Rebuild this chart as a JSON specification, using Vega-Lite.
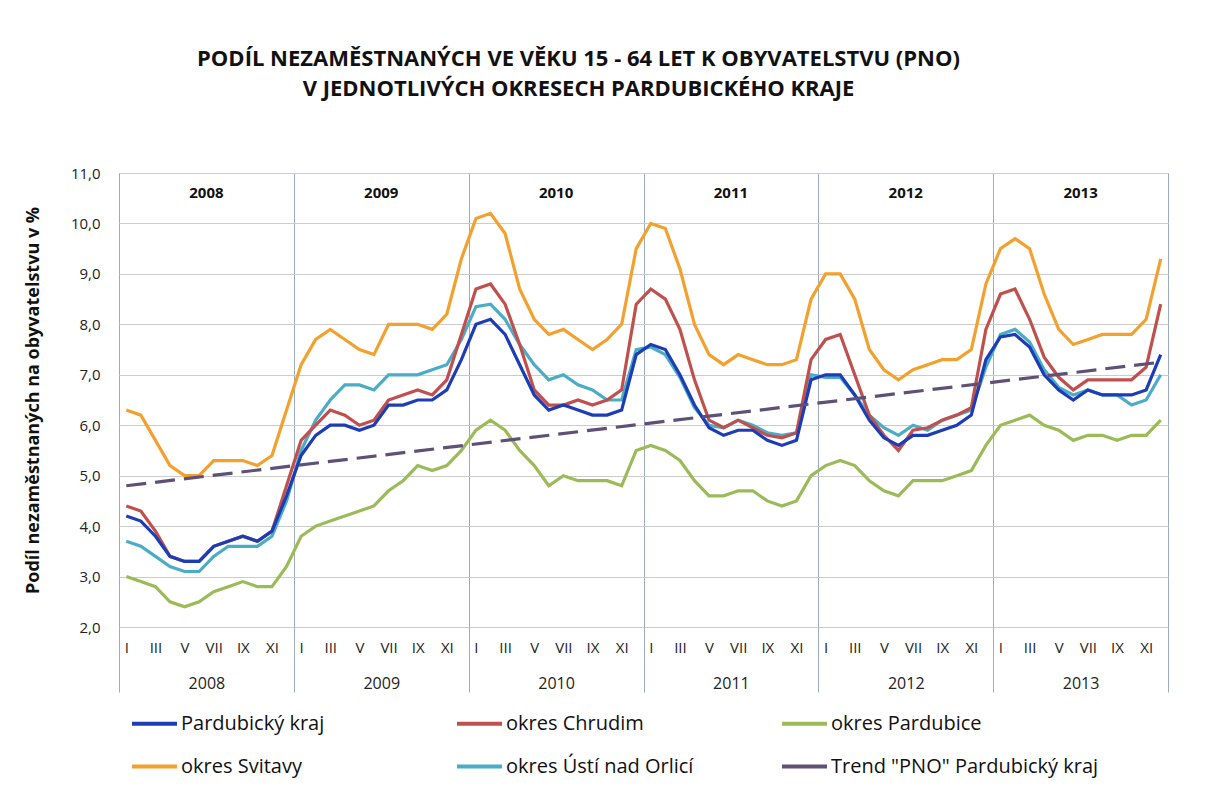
{
  "$schema": "https://vega.github.io/schema/vega-lite/v6.json",
  "width": 1049,
  "height": 454,
  "autosize": {"type": "none"},
  "padding": {"left": 119, "top": 173, "right": 50, "bottom": 158},
  "background": "white",
  "config": {"font": "Open Sans", "view": {"stroke": "#A6A6A6", "strokeWidth": 1}},
  "title": {
    "text": ["PODÍL NEZAMĚSTNANÝCH VE VĚKU 15 - 64 LET K OBYVATELSTVU (PNO)", "V JEDNOTLIVÝCH OKRESECH PARDUBICKÉHO KRAJE"],
    "fontSize": 22, "fontWeight": "bold", "color": "#111111", "anchor": "middle", "frame": "group",
    "dx": -65, "offset": 65, "lineHeight": 30
  },
  "layer": [
    {
      "layer": [
        {
          "data": {"values": [
            {"ym":"2008-01","Pardubický kraj":4.2,"okres Chrudim":4.4,"okres Pardubice":3.0,"okres Svitavy":6.3,"okres Ústí nad Orlicí":3.7},
            {"ym":"2008-02","Pardubický kraj":4.1,"okres Chrudim":4.3,"okres Pardubice":2.9,"okres Svitavy":6.2,"okres Ústí nad Orlicí":3.6},
            {"ym":"2008-03","Pardubický kraj":3.8,"okres Chrudim":3.9,"okres Pardubice":2.8,"okres Svitavy":5.7,"okres Ústí nad Orlicí":3.4},
            {"ym":"2008-04","Pardubický kraj":3.4,"okres Chrudim":3.4,"okres Pardubice":2.5,"okres Svitavy":5.2,"okres Ústí nad Orlicí":3.2},
            {"ym":"2008-05","Pardubický kraj":3.3,"okres Chrudim":3.3,"okres Pardubice":2.4,"okres Svitavy":5.0,"okres Ústí nad Orlicí":3.1},
            {"ym":"2008-06","Pardubický kraj":3.3,"okres Chrudim":3.3,"okres Pardubice":2.5,"okres Svitavy":5.0,"okres Ústí nad Orlicí":3.1},
            {"ym":"2008-07","Pardubický kraj":3.6,"okres Chrudim":3.6,"okres Pardubice":2.7,"okres Svitavy":5.3,"okres Ústí nad Orlicí":3.4},
            {"ym":"2008-08","Pardubický kraj":3.7,"okres Chrudim":3.7,"okres Pardubice":2.8,"okres Svitavy":5.3,"okres Ústí nad Orlicí":3.6},
            {"ym":"2008-09","Pardubický kraj":3.8,"okres Chrudim":3.8,"okres Pardubice":2.9,"okres Svitavy":5.3,"okres Ústí nad Orlicí":3.6},
            {"ym":"2008-10","Pardubický kraj":3.7,"okres Chrudim":3.7,"okres Pardubice":2.8,"okres Svitavy":5.2,"okres Ústí nad Orlicí":3.6},
            {"ym":"2008-11","Pardubický kraj":3.9,"okres Chrudim":3.9,"okres Pardubice":2.8,"okres Svitavy":5.4,"okres Ústí nad Orlicí":3.8},
            {"ym":"2008-12","Pardubický kraj":4.6,"okres Chrudim":4.8,"okres Pardubice":3.2,"okres Svitavy":6.3,"okres Ústí nad Orlicí":4.5},
            {"ym":"2009-01","Pardubický kraj":5.4,"okres Chrudim":5.7,"okres Pardubice":3.8,"okres Svitavy":7.2,"okres Ústí nad Orlicí":5.5},
            {"ym":"2009-02","Pardubický kraj":5.8,"okres Chrudim":6.0,"okres Pardubice":4.0,"okres Svitavy":7.7,"okres Ústí nad Orlicí":6.1},
            {"ym":"2009-03","Pardubický kraj":6.0,"okres Chrudim":6.3,"okres Pardubice":4.1,"okres Svitavy":7.9,"okres Ústí nad Orlicí":6.5},
            {"ym":"2009-04","Pardubický kraj":6.0,"okres Chrudim":6.2,"okres Pardubice":4.2,"okres Svitavy":7.7,"okres Ústí nad Orlicí":6.8},
            {"ym":"2009-05","Pardubický kraj":5.9,"okres Chrudim":6.0,"okres Pardubice":4.3,"okres Svitavy":7.5,"okres Ústí nad Orlicí":6.8},
            {"ym":"2009-06","Pardubický kraj":6.0,"okres Chrudim":6.1,"okres Pardubice":4.4,"okres Svitavy":7.4,"okres Ústí nad Orlicí":6.7},
            {"ym":"2009-07","Pardubický kraj":6.4,"okres Chrudim":6.5,"okres Pardubice":4.7,"okres Svitavy":8.0,"okres Ústí nad Orlicí":7.0},
            {"ym":"2009-08","Pardubický kraj":6.4,"okres Chrudim":6.6,"okres Pardubice":4.9,"okres Svitavy":8.0,"okres Ústí nad Orlicí":7.0},
            {"ym":"2009-09","Pardubický kraj":6.5,"okres Chrudim":6.7,"okres Pardubice":5.2,"okres Svitavy":8.0,"okres Ústí nad Orlicí":7.0},
            {"ym":"2009-10","Pardubický kraj":6.5,"okres Chrudim":6.6,"okres Pardubice":5.1,"okres Svitavy":7.9,"okres Ústí nad Orlicí":7.1},
            {"ym":"2009-11","Pardubický kraj":6.7,"okres Chrudim":6.9,"okres Pardubice":5.2,"okres Svitavy":8.2,"okres Ústí nad Orlicí":7.2},
            {"ym":"2009-12","Pardubický kraj":7.3,"okres Chrudim":7.8,"okres Pardubice":5.5,"okres Svitavy":9.3,"okres Ústí nad Orlicí":7.7},
            {"ym":"2010-01","Pardubický kraj":8.0,"okres Chrudim":8.7,"okres Pardubice":5.9,"okres Svitavy":10.1,"okres Ústí nad Orlicí":8.35},
            {"ym":"2010-02","Pardubický kraj":8.1,"okres Chrudim":8.8,"okres Pardubice":6.1,"okres Svitavy":10.2,"okres Ústí nad Orlicí":8.4},
            {"ym":"2010-03","Pardubický kraj":7.8,"okres Chrudim":8.4,"okres Pardubice":5.9,"okres Svitavy":9.8,"okres Ústí nad Orlicí":8.1},
            {"ym":"2010-04","Pardubický kraj":7.2,"okres Chrudim":7.6,"okres Pardubice":5.5,"okres Svitavy":8.7,"okres Ústí nad Orlicí":7.6},
            {"ym":"2010-05","Pardubický kraj":6.6,"okres Chrudim":6.7,"okres Pardubice":5.2,"okres Svitavy":8.1,"okres Ústí nad Orlicí":7.2},
            {"ym":"2010-06","Pardubický kraj":6.3,"okres Chrudim":6.4,"okres Pardubice":4.8,"okres Svitavy":7.8,"okres Ústí nad Orlicí":6.9},
            {"ym":"2010-07","Pardubický kraj":6.4,"okres Chrudim":6.4,"okres Pardubice":5.0,"okres Svitavy":7.9,"okres Ústí nad Orlicí":7.0},
            {"ym":"2010-08","Pardubický kraj":6.3,"okres Chrudim":6.5,"okres Pardubice":4.9,"okres Svitavy":7.7,"okres Ústí nad Orlicí":6.8},
            {"ym":"2010-09","Pardubický kraj":6.2,"okres Chrudim":6.4,"okres Pardubice":4.9,"okres Svitavy":7.5,"okres Ústí nad Orlicí":6.7},
            {"ym":"2010-10","Pardubický kraj":6.2,"okres Chrudim":6.5,"okres Pardubice":4.9,"okres Svitavy":7.7,"okres Ústí nad Orlicí":6.5},
            {"ym":"2010-11","Pardubický kraj":6.3,"okres Chrudim":6.7,"okres Pardubice":4.8,"okres Svitavy":8.0,"okres Ústí nad Orlicí":6.5},
            {"ym":"2010-12","Pardubický kraj":7.4,"okres Chrudim":8.4,"okres Pardubice":5.5,"okres Svitavy":9.5,"okres Ústí nad Orlicí":7.5},
            {"ym":"2011-01","Pardubický kraj":7.6,"okres Chrudim":8.7,"okres Pardubice":5.6,"okres Svitavy":10.0,"okres Ústí nad Orlicí":7.55},
            {"ym":"2011-02","Pardubický kraj":7.5,"okres Chrudim":8.5,"okres Pardubice":5.5,"okres Svitavy":9.9,"okres Ústí nad Orlicí":7.4},
            {"ym":"2011-03","Pardubický kraj":7.0,"okres Chrudim":7.9,"okres Pardubice":5.3,"okres Svitavy":9.1,"okres Ústí nad Orlicí":6.95},
            {"ym":"2011-04","Pardubický kraj":6.4,"okres Chrudim":6.9,"okres Pardubice":4.9,"okres Svitavy":8.0,"okres Ústí nad Orlicí":6.35},
            {"ym":"2011-05","Pardubický kraj":5.95,"okres Chrudim":6.1,"okres Pardubice":4.6,"okres Svitavy":7.4,"okres Ústí nad Orlicí":6.0},
            {"ym":"2011-06","Pardubický kraj":5.8,"okres Chrudim":5.95,"okres Pardubice":4.6,"okres Svitavy":7.2,"okres Ústí nad Orlicí":5.95},
            {"ym":"2011-07","Pardubický kraj":5.9,"okres Chrudim":6.1,"okres Pardubice":4.7,"okres Svitavy":7.4,"okres Ústí nad Orlicí":6.1},
            {"ym":"2011-08","Pardubický kraj":5.9,"okres Chrudim":5.95,"okres Pardubice":4.7,"okres Svitavy":7.3,"okres Ústí nad Orlicí":6.0},
            {"ym":"2011-09","Pardubický kraj":5.7,"okres Chrudim":5.8,"okres Pardubice":4.5,"okres Svitavy":7.2,"okres Ústí nad Orlicí":5.85},
            {"ym":"2011-10","Pardubický kraj":5.6,"okres Chrudim":5.75,"okres Pardubice":4.4,"okres Svitavy":7.2,"okres Ústí nad Orlicí":5.8},
            {"ym":"2011-11","Pardubický kraj":5.7,"okres Chrudim":5.85,"okres Pardubice":4.5,"okres Svitavy":7.3,"okres Ústí nad Orlicí":5.85},
            {"ym":"2011-12","Pardubický kraj":6.9,"okres Chrudim":7.3,"okres Pardubice":5.0,"okres Svitavy":8.5,"okres Ústí nad Orlicí":7.0},
            {"ym":"2012-01","Pardubický kraj":7.0,"okres Chrudim":7.7,"okres Pardubice":5.2,"okres Svitavy":9.0,"okres Ústí nad Orlicí":6.95},
            {"ym":"2012-02","Pardubický kraj":7.0,"okres Chrudim":7.8,"okres Pardubice":5.3,"okres Svitavy":9.0,"okres Ústí nad Orlicí":6.95},
            {"ym":"2012-03","Pardubický kraj":6.6,"okres Chrudim":7.0,"okres Pardubice":5.2,"okres Svitavy":8.5,"okres Ústí nad Orlicí":6.6},
            {"ym":"2012-04","Pardubický kraj":6.1,"okres Chrudim":6.2,"okres Pardubice":4.9,"okres Svitavy":7.5,"okres Ústí nad Orlicí":6.2},
            {"ym":"2012-05","Pardubický kraj":5.75,"okres Chrudim":5.8,"okres Pardubice":4.7,"okres Svitavy":7.1,"okres Ústí nad Orlicí":5.95},
            {"ym":"2012-06","Pardubický kraj":5.6,"okres Chrudim":5.5,"okres Pardubice":4.6,"okres Svitavy":6.9,"okres Ústí nad Orlicí":5.8},
            {"ym":"2012-07","Pardubický kraj":5.8,"okres Chrudim":5.9,"okres Pardubice":4.9,"okres Svitavy":7.1,"okres Ústí nad Orlicí":6.0},
            {"ym":"2012-08","Pardubický kraj":5.8,"okres Chrudim":5.95,"okres Pardubice":4.9,"okres Svitavy":7.2,"okres Ústí nad Orlicí":5.9},
            {"ym":"2012-09","Pardubický kraj":5.9,"okres Chrudim":6.1,"okres Pardubice":4.9,"okres Svitavy":7.3,"okres Ústí nad Orlicí":6.1},
            {"ym":"2012-10","Pardubický kraj":6.0,"okres Chrudim":6.2,"okres Pardubice":5.0,"okres Svitavy":7.3,"okres Ústí nad Orlicí":6.2},
            {"ym":"2012-11","Pardubický kraj":6.2,"okres Chrudim":6.35,"okres Pardubice":5.1,"okres Svitavy":7.5,"okres Ústí nad Orlicí":6.3},
            {"ym":"2012-12","Pardubický kraj":7.3,"okres Chrudim":7.9,"okres Pardubice":5.6,"okres Svitavy":8.8,"okres Ústí nad Orlicí":7.15},
            {"ym":"2013-01","Pardubický kraj":7.75,"okres Chrudim":8.6,"okres Pardubice":6.0,"okres Svitavy":9.5,"okres Ústí nad Orlicí":7.8},
            {"ym":"2013-02","Pardubický kraj":7.8,"okres Chrudim":8.7,"okres Pardubice":6.1,"okres Svitavy":9.7,"okres Ústí nad Orlicí":7.9},
            {"ym":"2013-03","Pardubický kraj":7.55,"okres Chrudim":8.1,"okres Pardubice":6.2,"okres Svitavy":9.5,"okres Ústí nad Orlicí":7.65},
            {"ym":"2013-04","Pardubický kraj":7.0,"okres Chrudim":7.35,"okres Pardubice":6.0,"okres Svitavy":8.6,"okres Ústí nad Orlicí":7.1},
            {"ym":"2013-05","Pardubický kraj":6.7,"okres Chrudim":6.95,"okres Pardubice":5.9,"okres Svitavy":7.9,"okres Ústí nad Orlicí":6.75},
            {"ym":"2013-06","Pardubický kraj":6.5,"okres Chrudim":6.7,"okres Pardubice":5.7,"okres Svitavy":7.6,"okres Ústí nad Orlicí":6.6},
            {"ym":"2013-07","Pardubický kraj":6.7,"okres Chrudim":6.9,"okres Pardubice":5.8,"okres Svitavy":7.7,"okres Ústí nad Orlicí":6.7},
            {"ym":"2013-08","Pardubický kraj":6.6,"okres Chrudim":6.9,"okres Pardubice":5.8,"okres Svitavy":7.8,"okres Ústí nad Orlicí":6.6},
            {"ym":"2013-09","Pardubický kraj":6.6,"okres Chrudim":6.9,"okres Pardubice":5.7,"okres Svitavy":7.8,"okres Ústí nad Orlicí":6.6},
            {"ym":"2013-10","Pardubický kraj":6.6,"okres Chrudim":6.9,"okres Pardubice":5.8,"okres Svitavy":7.8,"okres Ústí nad Orlicí":6.4},
            {"ym":"2013-11","Pardubický kraj":6.7,"okres Chrudim":7.15,"okres Pardubice":5.8,"okres Svitavy":8.1,"okres Ústí nad Orlicí":6.5},
            {"ym":"2013-12","Pardubický kraj":7.4,"okres Chrudim":8.4,"okres Pardubice":6.1,"okres Svitavy":9.3,"okres Ústí nad Orlicí":7.0}
          ]},
          "transform": [
            {"fold": ["okres Svitavy", "okres Pardubice", "okres Ústí nad Orlicí", "okres Chrudim", "Pardubický kraj"], "as": ["series", "value"]}
          ],
          "mark": {"type": "line", "strokeWidth": 3.2},
          "encoding": {
            "x": {
              "field": "ym", "type": "ordinal", "sort": "ascending",
              "scale": {"type": "point", "padding": 0.5},
              "axis": {
                "orient": "bottom", "title": null, "ticks": false, "domain": false, "grid": false,
                "labelAngle": 0, "labelOverlap": false, "labelPadding": 13, "labelFontSize": 15, "labelColor": "#222222",
                "labelExpr": "indexof(['01','03','05','07','09','11'], slice(datum.value, 5)) >= 0 ? ['I','II','III','IV','V','VI','VII','VIII','IX','X','XI','XII'][toNumber(slice(datum.value, 5)) - 1] : ''"
              }
            },
            "y": {
              "field": "value", "type": "quantitative",
              "scale": {"domain": [2, 11], "nice": false, "zero": false},
              "axis": {
                "title": "Podíl nezaměstnaných  na obyvatelstvu v %", "titleFontSize": 18, "titleFontWeight": "bold", "titleColor": "#111111",
                "titlePadding": 28,
                "values": [2, 3, 4, 5, 6, 7, 8, 9, 10, 11], "grid": true, "gridColor": "#CCCCCC", "ticks": false, "domain": false,
                "labelPadding": 19, "labelFontSize": 15, "labelColor": "#222222",
                "labelExpr": "replace(format(datum.value, '.1f'), '.', ',')"
              }
            },
            "color": {
              "field": "series", "type": "nominal",
              "scale": {
                "domain": ["Pardubický kraj", "okres Chrudim", "okres Pardubice", "okres Svitavy", "okres Ústí nad Orlicí", "Trend \"PNO\" Pardubický kraj"],
                "range": ["#1C3DB5", "#C0504D", "#9BBB59", "#F2A12E", "#4BACC6", "#5F5078"]
              },
              "legend": {
                "title": null, "orient": "none", "legendX": 11, "legendY": 526, "direction": "horizontal", "columns": 3,
                "gridAlign": "all", "columnPadding": 0, "rowPadding": 8,
                "symbolType": "stroke", "symbolSize": 2025, "symbolStrokeWidth": 4,
                "labelFontSize": 20, "labelColor": "#111111", "labelOffset": 2, "labelLimit": 400
              }
            }
          }
        },
        {
          "data": {"values": [
            {"ym": "2008-01", "value": 4.8, "series": "Trend \"PNO\" Pardubický kraj"},
            {"ym": "2013-12", "value": 7.25, "series": "Trend \"PNO\" Pardubický kraj"}
          ]},
          "mark": {"type": "line", "strokeWidth": 3.2, "strokeDash": [20, 9]},
          "encoding": {
            "x": {"field": "ym", "type": "ordinal"},
            "y": {"field": "value", "type": "quantitative"},
            "color": {"field": "series", "type": "nominal"}
          }
        }
      ]
    },
    {
      "data": {"values": [{"year": "2008"}, {"year": "2009"}, {"year": "2010"}, {"year": "2011"}, {"year": "2012"}, {"year": "2013"}]},
      "mark": {"type": "text", "fontWeight": "bold", "fontSize": 15, "color": "#111111", "baseline": "middle"},
      "encoding": {
        "x": {
          "field": "year", "type": "ordinal",
          "scale": {"type": "band", "paddingInner": 0, "paddingOuter": 0},
          "axis": {
            "orient": "bottom", "title": null, "grid": true, "gridColor": "#9DAAC4", "tickBand": "extent",
            "ticks": true, "tickSize": 65, "tickColor": "#9DAAC4", "domain": false,
            "labelPadding": -17, "labelFontSize": 16, "labelColor": "#222222", "labelAngle": 0
          }
        },
        "y": {"datum": 10.6, "type": "quantitative"},
        "text": {"field": "year"}
      }
    }
  ],
  "resolve": {"scale": {"x": "independent"}, "axis": {"x": "independent"}}
}
